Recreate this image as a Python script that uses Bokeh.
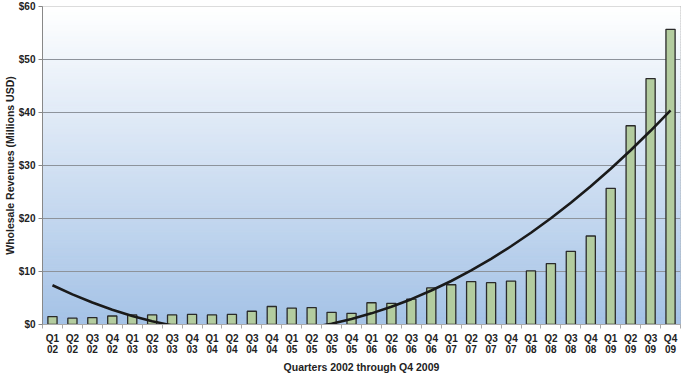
from bokeh.plotting import figure
from bokeh.models import FixedTicker, ColumnDataSource, NumeralTickFormatter
from bokeh.embed import file_html
from bokeh.resources import INLINE

quarters = ["Q1\n02", "Q2\n02", "Q3\n02", "Q4\n02", "Q1\n03", "Q2\n03", "Q3\n03", "Q4\n03",
            "Q1\n04", "Q2\n04", "Q3\n04", "Q4\n04", "Q1\n05", "Q2\n05", "Q3\n05", "Q4\n05",
            "Q1\n06", "Q2\n06", "Q3\n06", "Q4\n06", "Q1\n07", "Q2\n07", "Q3\n07", "Q4\n07",
            "Q1\n08", "Q2\n08", "Q3\n08", "Q4\n08", "Q1\n09", "Q2\n09", "Q3\n09", "Q4\n09"]
revenues = [1.5, 1.2, 1.3, 1.6, 1.8, 1.8, 1.8, 1.9,
            1.8, 1.9, 2.5, 3.4, 3.1, 3.2, 2.3, 2.1,
            4.1, 4.0, 4.8, 6.9, 7.5, 8.1, 7.9, 8.2,
            10.1, 11.5, 13.8, 16.7, 25.7, 37.5, 46.4, 55.7]
trend = [7.41, 5.68, 4.14, 2.79, 1.62, 0.63, -0.17, -0.78,
         -1.20, -1.44, -1.50, -1.36, -1.04, -0.54, 0.15, 1.03,
         2.10, 3.35, 4.78, 6.41, 8.21, 10.21, 12.39, 14.76,
         17.31, 20.05, 22.98, 26.09, 29.39, 32.87, 36.55, 40.40]
y_ticks = [0, 10, 20, 30, 40, 50, 60]

FONT = "Liberation Sans"
n = len(quarters)
xs = list(range(n))

p = figure(width=688, height=376, output_backend="svg", toolbar_location=None,
           x_range=(-0.5, n - 0.5), y_range=(0, 60),
           min_border_left=42, min_border_right=8, min_border_top=6, min_border_bottom=52,
           background_fill_color="white", border_fill_color="white")

# gradient background (white at top to light blue at bottom)
steps = 120
top_c = (255, 255, 255)
bot_c = (164, 194, 230)
bottoms, tops, cols = [], [], []
for i in range(steps):
    f = (i + 0.5) / steps
    c = tuple(int(round(bot_c[k] + (top_c[k] - bot_c[k]) * f)) for k in range(3))
    bottoms.append(60 * i / steps)
    tops.append(60 * (i + 1) / steps)
    cols.append("#%02x%02x%02x" % c)
p.quad(left=-0.5, right=n - 0.5, bottom=bottoms, top=tops, fill_color=cols,
       line_color=cols, line_width=1, level="image")

src = ColumnDataSource(dict(x=xs, rev=revenues, trend=trend))
p.vbar(x="x", top="rev", width=0.46, source=src, fill_color="#b3cc9f",
       line_color="#2a2a2a", line_width=1.3)
p.line(x="x", y="trend", source=src, line_color="#1a1a1a", line_width=2.6)

p.grid.visible = False
p.ygrid.visible = True
p.ygrid.ticker = FixedTicker(ticks=y_ticks)
p.ygrid.grid_line_color = "#8d939b"
p.ygrid.grid_line_width = 1
p.ygrid.level = "underlay"
p.outline_line_color = "#a0a0a0"

# y axis
p.yaxis.ticker = FixedTicker(ticks=y_ticks)
p.yaxis.formatter = NumeralTickFormatter(format="$0")
p.yaxis.axis_label = "Wholesale Revenues (Millions USD)"
p.yaxis.axis_label_text_font = FONT
p.yaxis.axis_label_text_font_style = "bold"
p.yaxis.axis_label_text_font_size = "10.5px"
p.yaxis.axis_label_text_color = "#222222"
p.yaxis.axis_label_standoff = 0
p.yaxis.major_label_text_font = FONT
p.yaxis.major_label_text_font_style = "bold"
p.yaxis.major_label_text_font_size = "10px"
p.yaxis.major_label_text_color = "#222222"
p.yaxis.major_label_standoff = 3
p.yaxis.axis_line_color = "#888888"
p.yaxis.major_tick_line_color = "#888888"
p.yaxis.major_tick_out = 4
p.yaxis.major_tick_in = 0
p.yaxis.minor_tick_line_color = None

# x axis
p.xaxis.ticker = FixedTicker(ticks=xs, minor_ticks=[i - 0.5 for i in range(n + 1)])
p.xaxis.major_label_overrides = {i: q for i, q in enumerate(quarters)}
p.xaxis.axis_label = "Quarters 2002 through Q4 2009"
p.xaxis.axis_label_text_font = FONT
p.xaxis.axis_label_text_font_style = "bold"
p.xaxis.axis_label_text_font_size = "10.5px"
p.xaxis.axis_label_text_color = "#222222"
p.xaxis.axis_label_standoff = 3
p.xaxis.major_label_text_font = FONT
p.xaxis.major_label_text_font_style = "bold"
p.xaxis.major_label_text_font_size = "10px"
p.xaxis.major_label_text_line_height = 1.0
p.xaxis.major_label_text_color = "#222222"
p.xaxis.major_label_standoff = 4
p.xaxis.major_tick_line_color = None
p.xaxis.major_tick_out = 0
p.xaxis.major_tick_in = 0
p.xaxis.minor_tick_line_color = "#aaaaaa"
p.xaxis.minor_tick_out = 4
p.xaxis.minor_tick_in = 0
p.xaxis.axis_line_color = "#aaaaaa"

open("out.html", "w").write(file_html(p, INLINE))
